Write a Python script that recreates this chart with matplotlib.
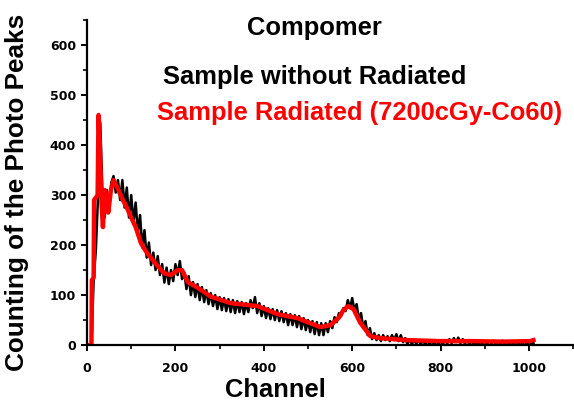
import numpy as np
import matplotlib
matplotlib.use("Agg")
import matplotlib.pyplot as plt
from matplotlib.ticker import MultipleLocator

# Black spectrum: sample without radiation (channel step 5, 0..1010)
black_channels = np.arange(0, 1015, 5)
black_counts = [
    0, 0, 0, 130, 190, 300, 445, 300, 255, 310,
    270, 325, 338, 305, 330, 290, 330, 275, 315, 255,
    300, 245, 285, 225, 260, 195, 230, 175, 205, 160,
    185, 150, 178, 140, 162, 125, 155, 122, 150, 128,
    162, 140, 168, 132, 145, 112, 138, 100, 126, 96,
    122, 90, 116, 86, 110, 82, 104, 78, 100, 72,
    96, 70, 94, 68, 92, 66, 90, 64, 88, 66,
    86, 62, 84, 66, 90, 74, 96, 64, 84, 58,
    78, 54, 74, 52, 72, 50, 70, 48, 68, 46,
    64, 40, 62, 40, 60, 36, 58, 32, 54, 30,
    50, 26, 48, 22, 46, 20, 44, 20, 44, 26,
    48, 34, 56, 46, 64, 58, 74, 68, 90, 74,
    94, 70, 82, 52, 64, 34, 48, 20, 34, 12,
    24, 10, 20, 8, 20, 10, 18, 8, 20, 10,
    22, 8, 20, 6, 14, 2, 12, 2, 10, 3,
    9, 2, 9, 2, 8, 2, 8, 1, 8, 2,
    8, 2, 10, 3, 12, 4, 14, 6, 15, 4,
    12, 3, 10, 2, 8, 2, 7, 1, 7, 2,
    8, 2, 8, 3, 9, 2, 8, 3, 9, 2,
    8, 2, 7, 2, 8, 2, 7, 2, 8, 2,
    7, 3, 4,
]

# Red spectrum: sample radiated (7200cGy-Co60)
red_channels = [0, 10, 11, 15, 16, 24, 26, 29, 33, 36, 40, 44, 48, 54, 60,
                70, 80, 90, 100, 110, 122, 135, 149, 160, 174, 190, 205, 215,
                228, 250, 280, 325, 386, 431, 476, 528, 551, 570, 580, 591,
                603, 618, 641, 663, 724, 799, 873, 940, 1002, 1010]
red_counts = [0, 0, 130, 135, 290, 300, 460, 400, 280, 236, 310, 300, 265, 310, 330,
              312, 292, 275, 255, 236, 204, 185, 170, 158, 144, 140, 150, 150,
              126, 115, 97, 84, 78, 62, 54, 36, 40, 55, 70, 78,
              72, 45, 18, 14, 10, 8, 8, 7, 8, 10]

x_ticks = [0, 200, 400, 600, 800, 1000]
y_ticks = [0, 100, 200, 300, 400, 500, 600]

fig = plt.figure(figsize=(5.74, 4.07), dpi=100)
ax = fig.add_axes([0.1516, 0.152, 0.847, 0.799])

ax.plot(black_channels, black_counts, color="black", lw=1.8)
ax.plot(red_channels, red_counts, color="red", lw=3.2, solid_joinstyle="round")

ax.set_xlim(0, 1100)
ax.set_ylim(0, 650)
ax.set_xticks(x_ticks)
ax.set_yticks(y_ticks)
ax.xaxis.set_minor_locator(MultipleLocator(100))
ax.yaxis.set_minor_locator(MultipleLocator(50))

for s in ["top", "right"]:
    ax.spines[s].set_visible(False)
for s in ["left", "bottom"]:
    ax.spines[s].set_linewidth(1.6)

ax.tick_params(axis="both", which="major", direction="out", length=4, width=1.4)
ax.tick_params(axis="both", which="minor", direction="out", length=3, width=1.2)
ax.tick_params(axis="x", pad=8)
ax.tick_params(axis="y", pad=4)
for lab in ax.get_xticklabels() + ax.get_yticklabels():
    lab.set_fontfamily("DejaVu Sans")
    lab.set_fontweight("bold")
    lab.set_fontsize(9)

lab_font = dict(family="Liberation Sans", weight="bold", size=18.4)
fig.text(275 / 574, 1 - 390 / 407, "Channel", ha="center", va="center", **lab_font)
fig.text(17 / 574, 1 - 192 / 407, "Counting of the Photo Peaks", ha="center",
         va="center", rotation=90, family="Liberation Sans", weight="bold", size=18.8)

fig.text(314 / 574, 1 - 28 / 407, "Compomer", ha="center", va="center", **lab_font)
fig.text(163 / 574, 1 - 77 / 407, "Sample without Radiated", ha="left",
         va="center", color="black", **lab_font)
fig.text(157 / 574, 1 - 113 / 407, "Sample Radiated (7200cGy-Co60)", ha="left",
         va="center", color="red", **lab_font)

fig.savefig("out.png", dpi=100)
